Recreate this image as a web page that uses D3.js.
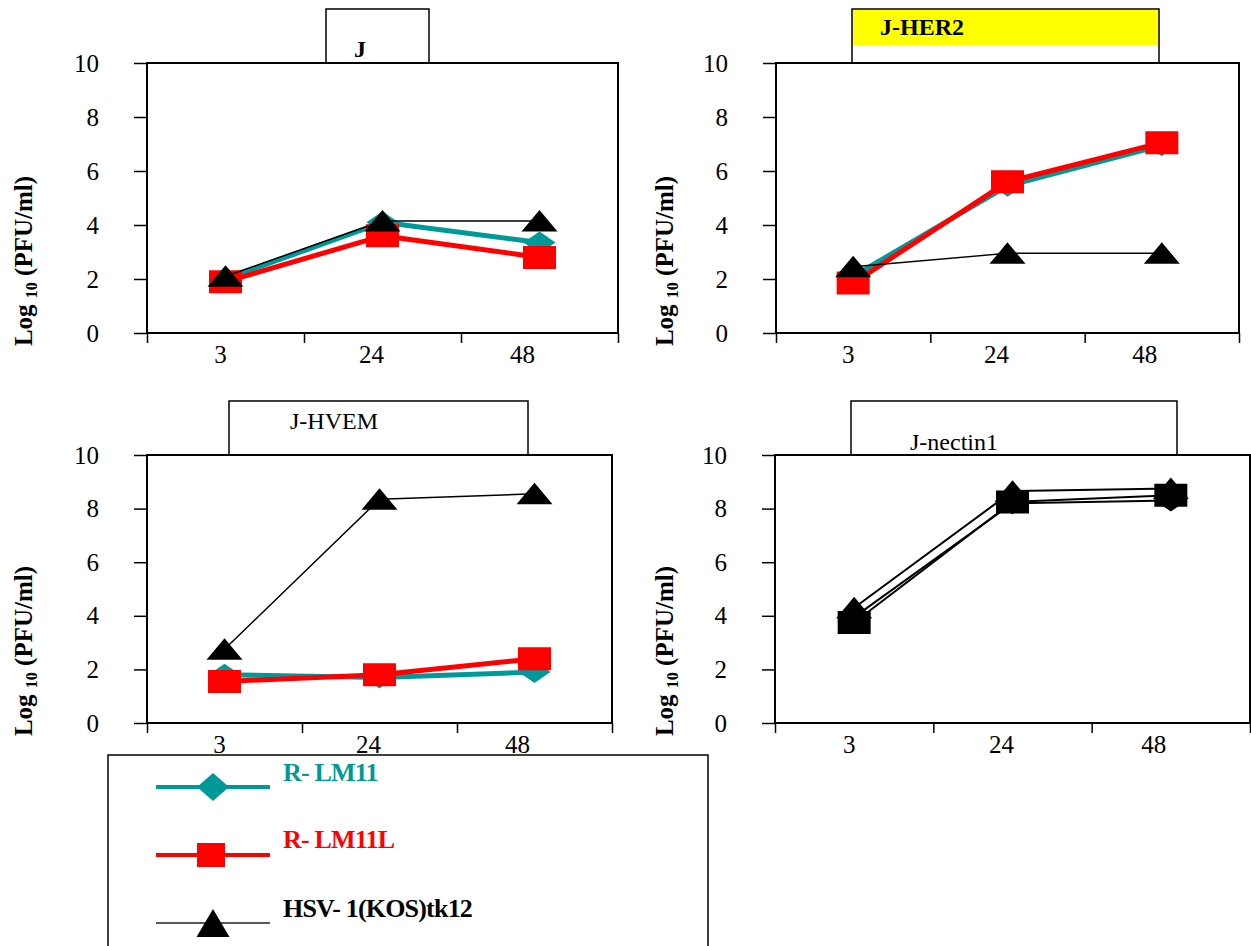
<!DOCTYPE html>
<html>
<head>
<meta charset="utf-8">
<script src="https://cdn.jsdelivr.net/npm/d3@7"></script>
</head>
<body style="margin:0">
<svg id="chart" width="1251" height="946" style="font-family: 'Liberation Serif', 'Times New Roman', serif;"></svg>
<script>
// data (log10 PFU/ml at 3, 24, 48 h)
const hours = ["3", "24", "48"];
const panelTitles = ["J", "J-HER2", "J-HVEM", "J-nectin1"];
const seriesNames = ["R- LM11", "R- LM11L", "HSV- 1(KOS)tk12"];
const rLM11  = [[2.0, 4.1, 3.35], [2.1, 5.45, 6.95], [1.8, 1.7, 1.9],  [3.95, 8.2, 8.3]];
const rLM11L = [[1.9, 3.6, 2.8],  [1.85, 5.6, 7.05], [1.55, 1.8, 2.4], [3.75, 8.25, 8.5]];
const kos12  = [[2.1, 4.15, 4.15], [2.45, 2.95, 2.95], [2.75, 8.35, 8.55], [4.3, 8.65, 8.75]];
const yTicks = [0, 2, 4, 6, 8, 10];

const FONT = '"Liberation Serif", "Times New Roman", serif';

// layout of the four panels (plot: x0,x1,y0,y1 ; box: title box)
const panels = [
  { plot: [147, 618, 63, 333], box: [326, 429, 9, 63],   tx: 354, ty: 57,  bold: true,  yellow: null, labX: 23 },
  { plot: [776, 1239, 63, 333], box: [852, 1159, 9, 63], tx: 880, ty: 35,  bold: true,  yellow: 45,   labX: 664 },
  { plot: [147, 612, 455, 723], box: [229, 528, 401, 455], tx: 290, ty: 429, bold: false, yellow: null, labX: 23 },
  { plot: [775, 1250, 455, 723], box: [851, 1177, 401, 455], tx: 910, ty: 450, bold: false, yellow: null, labX: 664 }
];

const teal = "#009999", red = "#ff0000";
const styles = [
  { color: teal, width: 5, marker: "diamond" },
  { color: red, width: 5, marker: "square" },
  { color: "#000", width: 1.5, marker: "triangle" }
];

const markerPath = {
  diamond: "M0,-11L16,0L0,11L-16,0Z",
  square: "M-16.5,-11.5h33v23h-33Z",
  triangle: "M0,-11L18,10.5L-18,10.5Z"
};
const legendPath = {
  diamond: "M0,-14L16,0L0,14L-16,0Z",
  square: "M-14,-12h28v24h-28Z",
  triangle: "M0,-14L16.5,14L-16.5,14Z"
};

const svg = d3.select("#chart");

function serif(sel, size, weight) {
  sel.attr("font-family", FONT)
    .style("font-family", FONT)
    .style("font-size", size + "px")
    .style("font-weight", weight || "normal");
  return sel;
}

panels.forEach((p, pi) => {
  const [x0, x1, y0, y1] = p.plot;
  const x = d3.scaleBand().domain(hours).range([x0, x1]);
  const y = d3.scaleLinear().domain([0, 10]).range([y1, y0]);
  const edge = d3.scaleLinear().domain([0, hours.length]).range([x0, x1]);
  const g = svg.append("g");

  // title box
  const [bx0, bx1, by0, by1] = p.box;
  g.append("rect")
    .attr("x", bx0).attr("y", by0)
    .attr("width", bx1 - bx0).attr("height", by1 - by0)
    .attr("fill", "#fff").attr("stroke", "#000").attr("stroke-width", 1.5);
  if (p.yellow) {
    g.append("rect")
      .attr("x", bx0 + 1).attr("y", by0 + 1)
      .attr("width", bx1 - bx0 - 2).attr("height", p.yellow - by0 - 1)
      .attr("fill", "#ffff00");
  }
  g.append("text")
    .attr("x", p.tx).attr("y", p.ty)
    .call(serif, 24, p.bold ? "bold" : "normal")
    .text(panelTitles[pi]);

  // plot frame
  g.append("rect")
    .attr("x", x0).attr("y", y0)
    .attr("width", x1 - x0).attr("height", y1 - y0)
    .attr("fill", "#fff").attr("stroke", "#000").attr("stroke-width", 2);

  // y axis
  const ya = g.append("g")
    .attr("transform", `translate(${x0},0)`)
    .call(d3.axisLeft(y).tickValues(yTicks).tickSize(13).tickSizeOuter(0).tickPadding(35));
  ya.attr("font-family", FONT);
  ya.select(".domain").remove();
  ya.selectAll("line").attr("stroke-width", 1.5);
  ya.selectAll("text").call(serif, 25);

  // x axis: ticks on band edges, labels near band centres
  const xa = g.append("g")
    .attr("transform", `translate(0,${y1})`)
    .call(d3.axisBottom(edge).tickValues(d3.range(hours.length + 1)).tickSize(10).tickFormat(""));
  xa.select(".domain").remove();
  xa.selectAll("line").attr("stroke-width", 1.5);
  g.selectAll(".xlab")
    .data(hours)
    .enter()
    .append("text")
    .attr("x", (d, i) => x(d) + x.bandwidth() / 2 - 5 - 6 * i)
    .attr("y", y1 + 30)
    .attr("text-anchor", "middle")
    .call(serif, 25)
    .text(d => d);

  // y axis title
  const yt = g.append("text")
    .attr("transform", `translate(${p.labX},${y1 - 72}) rotate(-90)`)
    .attr("text-anchor", "middle")
    .attr("dy", "0.35em")
    .call(serif, 25, "bold");
  yt.append("tspan").text("Log ");
  yt.append("tspan").style("font-size", "16px").attr("dy", "0.3em").text("10");
  yt.append("tspan").attr("dy", "-0.2em").text(" (PFU/ml)");

  // series
  const all = [rLM11[pi], rLM11L[pi], kos12[pi]];
  const line = d3.line()
    .x((d, i) => x(hours[i]) + x.bandwidth() / 2)
    .y(d => y(d));
  all.forEach((vals, si) => {
    const st = styles[si];
    const col = pi === 3 ? "#000" : st.color;
    const w = pi === 3 ? 2 : st.width;
    const sg = g.append("g");
    sg.append("path")
      .attr("d", line(vals))
      .attr("fill", "none")
      .attr("stroke", col)
      .attr("stroke-width", w)
      .attr("stroke-linejoin", "round");
    sg.selectAll("path.m")
      .data(vals)
      .enter()
      .append("path")
      .attr("class", "m")
      .attr("d", markerPath[st.marker])
      .attr("transform", (d, i) => `translate(${x(hours[i]) + x.bandwidth() / 2},${y(d)})`)
      .attr("fill", col);
  });
});

// legend
const lg = svg.append("g");
lg.append("rect")
  .attr("x", 108).attr("y", 755)
  .attr("width", 600).attr("height", 200)
  .attr("fill", "#fff").attr("stroke", "#000").attr("stroke-width", 1.5);
const legendY = [787, 855, 923];
const textY = [781, 848, 917];
seriesNames.forEach((name, si) => {
  const st = styles[si];
  const ly = legendY[si];
  lg.append("line")
    .attr("x1", 156).attr("x2", 270)
    .attr("y1", ly).attr("y2", ly)
    .attr("stroke", si === 2 ? "#222" : st.color)
    .attr("stroke-width", si === 2 ? 1.5 : 4);
  lg.append("path")
    .attr("d", legendPath[st.marker])
    .attr("transform", `translate(${si === 1 ? 211 : 213},${ly})`)
    .attr("fill", st.color);
  lg.append("text")
    .attr("x", 283).attr("y", textY[si])
    .call(serif, 26, "bold")
    .style("letter-spacing", "-0.8px")
    .attr("fill", st.color)
    .text(name);
});
</script>
</body>
</html>
